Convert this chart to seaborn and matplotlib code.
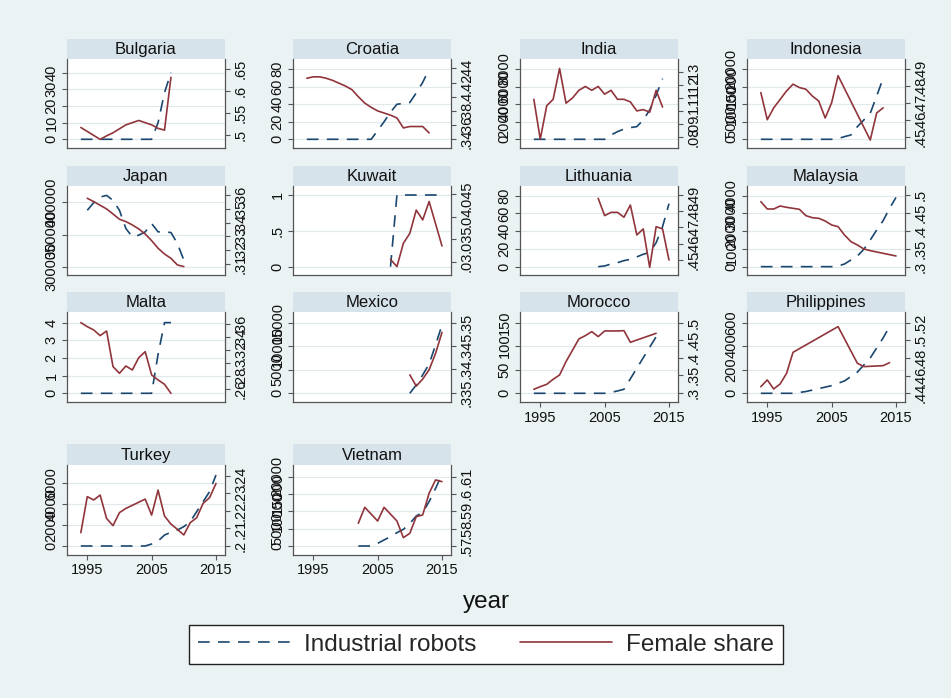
import matplotlib
matplotlib.use("Agg")
import matplotlib.pyplot as plt
from matplotlib.lines import Line2D
import seaborn as sns

sns.set_style("white")
plt.rcParams['font.family'] = ['Liberation Sans', 'DejaVu Sans']

# ---------------- data ----------------
countries = ["Bulgaria", "Croatia", "India", "Indonesia",
             "Japan", "Kuwait", "Lithuania", "Malaysia",
             "Malta", "Mexico", "Morocco", "Philippines",
             "Turkey", "Vietnam"]

bulgaria_yr_f = list(range(1994, 2009))
bulgaria_female = [.517, .508, .499, .490, .498, .505, .514, .523, .528, .533, .528, .523, .515, .511, .631]
bulgaria_yr_r = list(range(1994, 2009))
bulgaria_robots = [0, 0, 0, 0, 0, 0, 0, 0, 0, 0, 0, 0, 10, 28, 40]

croatia_yr_f = list(range(1994, 2014))
croatia_female = [.426, .428, .428, .426, .423, .419, .415, .410, .400, .391, .385, .380, .377, .374, .370,
                  .356, .358, .358, .358, .349]
croatia_yr_r = list(range(1994, 2014))
croatia_robots = [0, 0, 0, 0, 0, 0, 0, 0, 0, 0, 0, 10, 20, 31, 40, 41, 42, 53, 65, 80]

india_yr_f = list(range(1994, 2015))
india_female = [.109, .078, .104, .109, .133, .106, .110, .116, .119, .116, .119, .113, .116, .109, .109,
                .107, .100, .101, .099, .116, .103]
india_yr_r = list(range(1994, 2015))
india_robots = [0, 0, 0, 0, 0, 0, 0, 0, 0, 0, 0, 0, 490, 870, 1170, 1330, 1440, 2200, 3330, 5000, 6900]

indonesia_yr_f = list(range(1994, 2007)) + [2011, 2012, 2013]
indonesia_female = [.476, .460, .467, .472, .477, .481, .479, .478, .474, .471, .461, .470, .486,
                    .448, .464, .467]
indonesia_yr_r = list(range(1994, 2014))
indonesia_robots = [0, 0, 0, 0, 0, 0, 0, 0, 0, 0, 0, 0, 200, 760, 1230, 3600, 5500, 7400, 12300, 17350]

japan_yr_f = list(range(1995, 2011))
japan_female = [.3576, .3552, .3525, .3499, .3462, .3424, .3407, .3383, .3354, .3317, .3269, .3214,
                .3172, .3141, .3093, .3081]
japan_yr_r = list(range(1995, 2011))
japan_robots = [387600, 399500, 408200, 410800, 403100, 387600, 359300, 346400, 349000, 354100,
                367000, 354100, 354100, 353100, 336100, 310300]

kuwait_yr_f = [2007, 2008, 2009, 2010, 2011, 2012, 2013, 2015]
kuwait_female = [.0305, .0289, .0341, .0363, .0415, .0393, .0434, .0335]
kuwait_yr_r = list(range(2007, 2016))
kuwait_robots = [0, 1, 1, 1, 1, 1, 1, 1, 1]

lithuania_yr_f = list(range(2004, 2016))
lithuania_female = [.4879, .4773, .4793, .4793, .4763, .4838, .4654, .4691, .4455, .4705, .4691, .4500]
lithuania_yr_r = list(range(2004, 2016))
lithuania_robots = [0, 0.8, 3, 4.5, 6.8, 8.3, 11, 14, 16, 27, 45, 71]

malaysia_yr_f = list(range(1994, 2012)) + [2013, 2015]
malaysia_female = [.4814, .4609, .4609, .4693, .4656, .4628, .4600, .4423, .4367, .4349, .4274, .4163,
                   .4116, .3884, .3698, .3605, .3493, .3447, .3372, .3298]
malaysia_yr_r = list(range(1994, 2016))
malaysia_robots = [0, 0, 0, 0, 0, 0, 0, 0, 0, 0, 0, 0, 38, 150, 375, 600, 976, 1500, 2066, 2590, 3286, 3900]

malta_yr_f = list(range(1994, 2009))
malta_female = [.3626, .3564, .3513, .3426, .3497, .2949, .2846, .2959, .2897, .3087, .3179, .2821,
                .2744, .2677, .2538]
malta_yr_r = list(range(1994, 2009))
malta_robots = [0, 0, 0, 0, 0, 0, 0, 0, 0, 0, 0, 0, 2.2, 4, 4]

mexico_yr_f = list(range(2010, 2016))
mexico_female = [.3388, .3364, .3379, .3399, .3434, .3479]
mexico_yr_r = list(range(2010, 2016))
mexico_robots = [0, 1770, 3890, 6220, 10250, 14500]

morocco_yr_f = [1994, 1995, 1996, 1997, 1998, 1999, 2001, 2002, 2003, 2004, 2005, 2007, 2008, 2009, 2013]
morocco_female = [.3095, .3171, .3238, .3381, .3505, .3886, .4533, .4629, .4743, .4600, .4762, .4762,
                  .4771, .4438, .4695]
morocco_yr_r = list(range(1994, 2009)) + [2013]
morocco_robots = [0, 0, 0, 0, 0, 0, 0, 0, 0, 0, 0, 0, 2, 5, 8.5, 120]

philippines_yr_f = [1994, 1995, 1996, 1997, 1998, 1999, 2006, 2009, 2010, 2013, 2014]
philippines_female = [.4475, .4551, .4449, .4506, .4626, .4864, .5155, .4740, .4702, .4713, .4747]
philippines_yr_r = [1994, 1995, 1996, 1997, 1998, 1999, 2001, 2003, 2005, 2007, 2009, 2011, 2013, 2014]
philippines_robots = [0, 0, 0, 0, 0, 0, 15, 40, 65, 105, 180, 300, 470, 566]

turkey_yr_f = list(range(1994, 2002)) + list(range(2004, 2016))
turkey_female = [.2076, .2281, .2262, .2290, .2157, .2116, .2190, .2214,
                 .2267, .2176, .2318, .2171, .2125, .2095, .2063, .2133, .2161, .2243, .2275, .2356]
turkey_yr_r = list(range(1994, 2016))
turkey_robots = [0, 0, 0, 0, 0, 0, 0, 0, 0, 0, 0, 190, 480, 1050, 1310, 1530, 1850, 2330, 3290, 4250,
                 5200, 6800]

vietnam_yr_f = [2002, 2003, 2005, 2006, 2008, 2009, 2010, 2011, 2012, 2013, 2014, 2015]
vietnam_female = [.5831, .5923, .5844, .5923, .5844, .5748, .5773, .5869, .5879, .6004, .6081, .6071]
vietnam_yr_r = list(range(2002, 2016))
vietnam_robots = [0, 0, 0, 770, 1730, 2700, 3850, 4800, 6500, 8650, 9700, 12800, 16600, 20700]

# axis ticks (left: robots, right: female share)
left_ticks = {
    "Bulgaria": [0, 10, 20, 30, 40], "Croatia": [0, 20, 40, 60, 80],
    "India": [0, 2000, 4000, 6000, 8000], "Indonesia": [0, 5000, 10000, 15000, 20000],
    "Japan": [300000, 350000, 400000], "Kuwait": [0, .5, 1],
    "Lithuania": [0, 20, 40, 60, 80], "Malaysia": [0, 1000, 2000, 3000, 4000],
    "Malta": [0, 1, 2, 3, 4], "Mexico": [0, 5000, 10000, 15000],
    "Morocco": [0, 50, 100, 150], "Philippines": [0, 200, 400, 600],
    "Turkey": [0, 2000, 4000, 6000], "Vietnam": [0, 5000, 10000, 15000, 20000],
}
right_ticks = {
    "Bulgaria": [.5, .55, .6, .65], "Croatia": [.34, .36, .38, .40, .42, .44],
    "India": [.08, .09, .10, .11, .12, .13], "Indonesia": [.45, .46, .47, .48, .49],
    "Japan": [.31, .32, .33, .34, .35, .36], "Kuwait": [.03, .035, .04, .045],
    "Lithuania": [.45, .46, .47, .48, .49], "Malaysia": [.3, .35, .4, .45, .5],
    "Malta": [.26, .28, .30, .32, .34, .36], "Mexico": [.335, .34, .345, .35],
    "Morocco": [.3, .35, .4, .45, .5], "Philippines": [.44, .46, .48, .5, .52],
    "Turkey": [.2, .21, .22, .23, .24], "Vietnam": [.57, .58, .59, .6, .61],
}
left_lims = {
    "Bulgaria": (-5.4, 48), "Croatia": (-10.3, 91.4), "India": (-1024, 9099),
    "Indonesia": (-2559, 22749), "Japan": (287047, 425389), "Kuwait": (-.1163, 1.1256),
    "Lithuania": (-9.39, 90.9), "Malaysia": (-469.5, 4544.6), "Malta": (-.5094, 4.585),
    "Mexico": (-1910, 17193), "Morocco": (-19.1, 171.9), "Philippines": (-76.4, 687.7),
    "Turkey": (-862, 7755), "Vietnam": (-2596, 23365),
}
right_lims = {
    "Bulgaria": (.4697, .672), "Croatia": (.3273, .4527), "India": (.07093, .1401),
    "Indonesia": (.4431, .4957), "Japan": (.3020, .3665), "Kuwait": (.02703, .04686),
    "Lithuania": (.4408, .4955), "Malaysia": (.2767, .5251), "Malta": (.24, .3785),
    "Mexico": (.33293, .3522), "Morocco": (.2724, .5295), "Philippines": (.4298, .5317),
    "Turkey": (.1949, .2461), "Vietnam": (.5648, .6167),
}
year_ticks = [1995, 2005, 2015]
labelled_x = {"Morocco", "Philippines", "Turkey", "Vietnam"}

series = {
    "Bulgaria": (bulgaria_yr_r, bulgaria_robots, bulgaria_yr_f, bulgaria_female),
    "Croatia": (croatia_yr_r, croatia_robots, croatia_yr_f, croatia_female),
    "India": (india_yr_r, india_robots, india_yr_f, india_female),
    "Indonesia": (indonesia_yr_r, indonesia_robots, indonesia_yr_f, indonesia_female),
    "Japan": (japan_yr_r, japan_robots, japan_yr_f, japan_female),
    "Kuwait": (kuwait_yr_r, kuwait_robots, kuwait_yr_f, kuwait_female),
    "Lithuania": (lithuania_yr_r, lithuania_robots, lithuania_yr_f, lithuania_female),
    "Malaysia": (malaysia_yr_r, malaysia_robots, malaysia_yr_f, malaysia_female),
    "Malta": (malta_yr_r, malta_robots, malta_yr_f, malta_female),
    "Mexico": (mexico_yr_r, mexico_robots, mexico_yr_f, mexico_female),
    "Morocco": (morocco_yr_r, morocco_robots, morocco_yr_f, morocco_female),
    "Philippines": (philippines_yr_r, philippines_robots, philippines_yr_f, philippines_female),
    "Turkey": (turkey_yr_r, turkey_robots, turkey_yr_f, turkey_female),
    "Vietnam": (vietnam_yr_r, vietnam_robots, vietnam_yr_f, vietnam_female),
}

# ---------------- styling / layout ----------------
W, H = 951, 698
BG = "#EAF2F3"
STRIP = "#D7E3EA"
GRID = "#E1E9ED"
NAVY = "#1A476F"
MAROON = "#90353B"
AXC = "#555555"
DASH = (0, (7, 5))
TICKFS = 10.5

col_x = [(67, 225), (293, 451), (520, 678), (747, 905)]
row_y = [(39.3, 59.3, 148.3), (166, 186, 275), (292.3, 312.3, 402.3), (444.3, 465, 555)]


def rect(x0, ytop, x1, ybot):
    return [x0 / W, 1 - ybot / H, (x1 - x0) / W, (ybot - ytop) / H]


def fmt(v):
    s = "%g" % v
    if s.startswith("0."):
        s = s[1:]
    return s


fig = plt.figure(figsize=(W / 100, H / 100), dpi=100)
fig.patch.set_facecolor(BG)

for i, name in enumerate(countries):
    r, c = divmod(i, 4)
    x0, x1 = col_x[c]
    st, sb, pb = row_y[r]

    sax = fig.add_axes(rect(x0, st, x1, sb))
    sax.set_facecolor(STRIP)
    for sp in sax.spines.values():
        sp.set_visible(False)
    sax.set_xticks([])
    sax.set_yticks([])
    sax.text(0.5, 0.47, name, ha="center", va="center", fontsize=12, color="#111111",
             transform=sax.transAxes)

    ax = fig.add_axes(rect(x0, sb, x1, pb))
    ax.set_facecolor("white")
    yr_r, rob, yr_f, fem = series[name]
    sns.lineplot(x=yr_r, y=rob, ax=ax, color=NAVY, linestyle=DASH, linewidth=1.2)
    ax2 = ax.twinx()
    sns.lineplot(x=yr_f, y=fem, ax=ax2, color=MAROON, linewidth=1.2)

    ax.set_xlim(1991.85, 2016.4)
    ax.set_ylim(*left_lims[name])
    ax2.set_ylim(*right_lims[name])
    ax.set_xlabel("")
    ax.set_ylabel("")
    ax2.set_ylabel("")

    lt = left_ticks[name]
    ax.set_yticks(lt)
    ax.set_yticklabels([fmt(v) for v in lt], rotation=90, va="center", fontsize=TICKFS)
    rt = right_ticks[name]
    ax2.set_yticks(rt)
    ax2.set_yticklabels([fmt(v) for v in rt], rotation=90, va="center", fontsize=TICKFS)

    if name in labelled_x:
        ax.set_xticks(year_ticks)
        ax.set_xticklabels([str(y) for y in year_ticks], fontsize=TICKFS)
    else:
        ax.set_xticks([])

    ax.yaxis.grid(True, color=GRID, linewidth=0.9)
    ax.xaxis.grid(False)
    ax.set_axisbelow(True)
    ax2.grid(False)

    for sp in ["top", "right"]:
        ax.spines[sp].set_visible(False)
    for sp in ["left", "bottom"]:
        ax.spines[sp].set_color(AXC)
        ax.spines[sp].set_linewidth(0.9)
    for sp in ["top", "left", "bottom"]:
        ax2.spines[sp].set_visible(False)
    ax2.spines["right"].set_color(AXC)
    ax2.spines["right"].set_linewidth(0.9)

    ax.tick_params(axis="both", direction="out", length=3.6, width=0.8, color=AXC, pad=2.5,
                   labelcolor="#111111", left=True, bottom=True)
    ax2.tick_params(axis="y", direction="out", length=3.6, width=0.8, color=AXC, pad=2.5,
                    labelcolor="#111111", right=True)

fig.text(486 / W, 1 - 602 / H, "year", ha="center", va="center", fontsize=17.5, color="#111111")

handles = [Line2D([], [], color=NAVY, linestyle=DASH, linewidth=1.2),
           Line2D([], [], color=MAROON, linewidth=1.2)]
leg = fig.legend(handles, ["Industrial robots", "Female share"], loc="center",
                 bbox_to_anchor=(189 / W, 1 - 666 / H, 594 / W, 43 / H), mode="expand", ncol=2,
                 frameon=True, fancybox=False, edgecolor="#222222", facecolor="white",
                 framealpha=1, fontsize=17.5, handlelength=3.8, borderaxespad=0,
                 borderpad=0.35, handletextpad=0.6)
leg.get_frame().set_linewidth(1.0)

fig.savefig("out.png", dpi=100, facecolor=BG)
